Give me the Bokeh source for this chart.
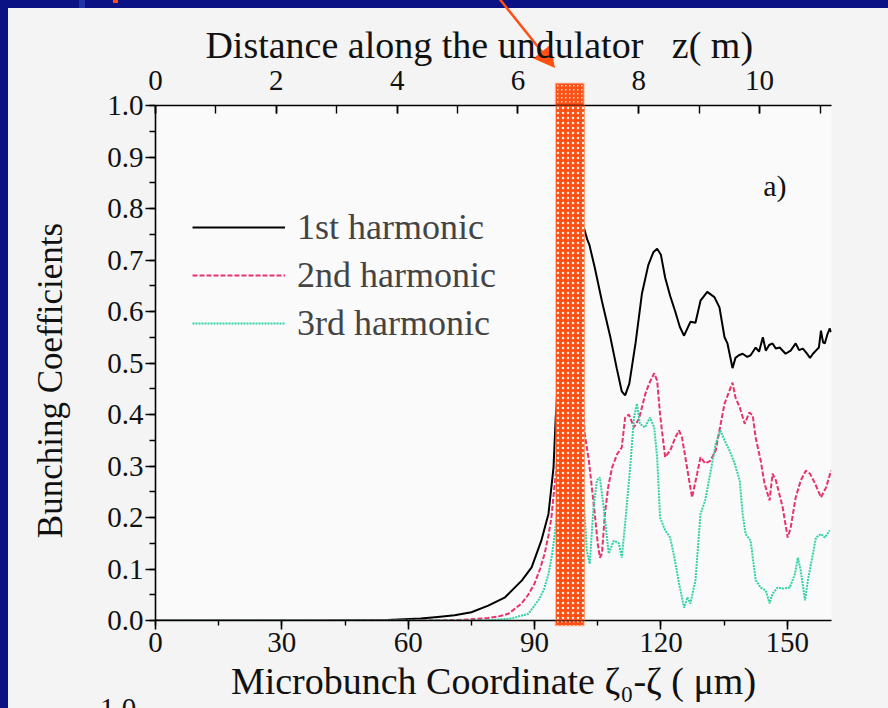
import math
import urllib.parse
from bokeh.plotting import figure
from bokeh.models import (LinearAxis, Range1d, Legend, LegendItem, BoxAnnotation,
                          Label, SingleIntervalTicker, PrintfTickFormatter, InlineStyleSheet)
from bokeh.embed import file_html
from bokeh.resources import INLINE

# ---------------- data ----------------
x_h1 = [0, 20, 40, 55, 63, 67, 71, 75, 79, 83,
        87, 89.3, 91.6, 93.3, 94.5, 95, 95.7, 96.5, 97.5, 98.5,
        99.5, 100.5, 101, 101.8, 102.5, 103, 104.3, 106, 108, 109.5,
        110.7, 111.5, 112.5, 114, 115.5, 117, 118.2, 119.1, 120, 121,
        122.2, 123.4, 124.5, 125.5, 127, 128.2, 129.4, 131, 132.7, 133.9,
        135.1, 135.8, 137, 137.7, 138.5, 139.4, 140.5, 141.3, 142.5, 143.3,
        144.2, 144.9, 145.7, 146.5, 147.3, 148.2, 149.6, 150.8, 152, 152.8,
        153.7, 154.5, 155.4, 156.1, 156.8, 157.5, 158, 158.5, 158.9, 159.5,
        160.1, 160.4]
y_h1 = [0, 0, 0, 0.001, 0.004, 0.007, 0.01, 0.016, 0.029, 0.045,
        0.078, 0.103, 0.155, 0.207, 0.297, 0.39, 0.49, 0.56, 0.64, 0.70,
        0.74, 0.765, 0.767, 0.76, 0.74, 0.73, 0.685, 0.62, 0.55, 0.49,
        0.445, 0.437, 0.46, 0.54, 0.635, 0.69, 0.715, 0.722, 0.71, 0.666,
        0.63, 0.60, 0.57, 0.553, 0.58, 0.578, 0.621, 0.638, 0.628, 0.608,
        0.55, 0.538, 0.49, 0.51, 0.515, 0.518, 0.512, 0.515, 0.53, 0.522,
        0.55, 0.524, 0.535, 0.538, 0.528, 0.53, 0.518, 0.524, 0.538, 0.525,
        0.528, 0.52, 0.51, 0.518, 0.524, 0.53, 0.563, 0.54, 0.538, 0.555,
        0.567, 0.56]

x_h2 = [0, 20, 40, 60, 72, 76, 79, 81.5, 83.8, 86.9,
        88.5, 90, 91.3, 92.4, 93.3, 94, 94.8, 96, 97, 98,
        99, 99.8, 100.5, 101.2, 101.9, 102.9, 103.6, 104.3, 105, 105.5,
        106, 106.7, 107.5, 108.4, 109.6, 110.7, 111.5, 112.4, 113.6, 114.8,
        115.5, 116.3, 117.2, 118.4, 119.1, 119.8, 121, 122.2, 123.4, 124.3,
        125, 125.8, 126.7, 127.4, 128.6, 129.4, 130.5, 131.7, 133, 133.9,
        135.1, 136.3, 137, 137.7, 138.7, 139.9, 141, 141.8, 142.5, 143.7,
        144.6, 145.8, 146.5, 147.3, 148.9, 150.1, 150.8, 152, 153.2, 154.4,
        155.4, 156.6, 158, 159.2, 160.4]
y_h2 = [0, 0, 0, 0, 0.001, 0.003, 0.005, 0.008, 0.013, 0.033,
        0.05, 0.072, 0.1, 0.13, 0.165, 0.2, 0.266, 0.36, 0.46, 0.55,
        0.61, 0.62, 0.56, 0.46, 0.363, 0.31, 0.258, 0.207, 0.15, 0.122,
        0.13, 0.207, 0.26, 0.297, 0.323, 0.336, 0.394, 0.40, 0.375, 0.392,
        0.414, 0.44, 0.46, 0.48, 0.466, 0.40, 0.317, 0.33, 0.355, 0.369,
        0.355, 0.317, 0.272, 0.239, 0.285, 0.317, 0.305, 0.31, 0.33, 0.369,
        0.421, 0.447, 0.462, 0.433, 0.414, 0.382, 0.404, 0.398, 0.355, 0.31,
        0.266, 0.233, 0.285, 0.272, 0.22, 0.161, 0.18, 0.239, 0.272, 0.291,
        0.285, 0.266, 0.239, 0.258, 0.291]

x_h3 = [0, 20, 40, 60, 75, 80, 84.5, 88.5, 90.9, 92.2,
        93.3, 94.1, 94.8, 96, 97, 98, 99, 99.7, 100.5, 101.2,
        102.4, 103.1, 104, 104.8, 105.5, 106.4, 107.6, 108.8, 110, 110.7,
        111.5, 112.7, 113.6, 114.3, 115, 116.2, 117.4, 118.4, 119.1, 119.8,
        121, 122.2, 123.2, 124.3, 125.5, 126.3, 127, 128.2, 129.4, 130.5,
        131.7, 133, 134.1, 135.1, 136.3, 137.5, 138.7, 139.4, 140.1, 141.3,
        142.5, 143.7, 144.9, 145.8, 146.5, 147.7, 148.9, 150.6, 151.8, 152.5,
        153.2, 154.2, 154.9, 156.1, 156.8, 158, 158.9, 160.1]
y_h3 = [0, 0, 0, 0, 0, 0.001, 0.004, 0.013, 0.039, 0.06,
        0.09, 0.125, 0.168, 0.26, 0.36, 0.45, 0.51, 0.53, 0.45, 0.3,
        0.136, 0.11, 0.22, 0.272, 0.278, 0.22, 0.13, 0.155, 0.15, 0.122,
        0.188, 0.297, 0.394, 0.421, 0.382, 0.375, 0.394, 0.375, 0.317, 0.2,
        0.175, 0.161, 0.122, 0.072, 0.025, 0.045, 0.033, 0.078, 0.207, 0.233,
        0.285, 0.343, 0.369, 0.35, 0.33, 0.305, 0.272, 0.207, 0.168, 0.155,
        0.078, 0.064, 0.058, 0.033, 0.052, 0.064, 0.062, 0.064, 0.09, 0.122,
        0.097, 0.039, 0.078, 0.13, 0.161, 0.168, 0.161, 0.175]

series_names = ["1st harmonic", "2nd harmonic", "3rd harmonic"]
x_ticks_interval = 30
z_ticks_interval = 2
y_ticks_interval = 0.1
highlight_left, highlight_right = 95.0, 101.9

# ---------------- styling ----------------
FONT = "Liberation Serif"
BLUE = "#0b1384"
ORANGE = "#ff4f12"
C1, C2, C3 = "#000000", "#e8336b", "#2fd3a6"
XMAX = 160.5
ZMAX = 11.19
W, H = 888, 708
BL, BR, BT, BB = 155, 57, 105, 88
SX = (W - BL - BR) / XMAX
NB = "\u00a0"

# ---- decorations outside the plot frame (slide border, arrow, highlight tabs) ----
hl_px = BL + highlight_left * SX
hr_px = BL + highlight_right * SX
S = (498.0, -3.0)
T = (555.0, 68.0)
dx, dy = T[0] - S[0], T[1] - S[1]
L = math.hypot(dx, dy)
ux, uy = dx / L, dy / L
nx, ny = -uy, ux
head_len, head_hw = 21.0, 11.0
B = (T[0] - head_len * ux, T[1] - head_len * uy)
c1 = (B[0] + head_hw * nx, B[1] + head_hw * ny)
c2 = (B[0] - head_hw * nx, B[1] - head_hw * ny)
svg = (
    f'<svg xmlns="http://www.w3.org/2000/svg" width="{W}" height="{H}">'
    '<defs><pattern id="hp" width="4" height="4" patternUnits="userSpaceOnUse">'
    f'<rect width="4" height="4" fill="{ORANGE}"/>'
    '<rect x="1" y="1" width="1.5" height="1.5" fill="white" fill-opacity="0.85"/></pattern></defs>'
    f'<rect width="{W}" height="{H}" fill="#f4f4f4"/>'
    f'<rect x="0" y="0" width="{W}" height="8" fill="{BLUE}"/>'
    f'<rect x="0" y="0" width="8" height="{H}" fill="{BLUE}"/>'
    '<rect x="79" y="0" width="6" height="8" fill="#2233a8"/>'
    f'<rect x="113" y="0" width="5" height="3" fill="{ORANGE}"/>'
    f'<rect x="{hl_px:.1f}" y="83" width="{hr_px - hl_px:.1f}" height="{H - BB + 6 - 83}" '
    'fill="url(#hp)" stroke="#ffd0c0" stroke-width="1"/>'
    f'<line x1="{S[0]}" y1="{S[1]}" x2="{B[0] + 3 * ux:.1f}" y2="{B[1] + 3 * uy:.1f}" '
    f'stroke="{ORANGE}" stroke-width="2.5"/>'
    f'<polygon points="{T[0]},{T[1]} {c1[0]:.1f},{c1[1]:.1f} {c2[0]:.1f},{c2[1]:.1f}" fill="{ORANGE}"/>'
    f'<text x="100" y="718" font-family="{FONT}" font-size="29" fill="#111">1.0</text>'
    '</svg>'
)
bg_css = (":host { background-color: #f4f4f4; background-image: url(\"data:image/svg+xml;utf8,"
          + urllib.parse.quote(svg) + "\"); background-repeat: no-repeat; "
          f"background-size: {W}px {H}px; }}")

p = figure(width=W, height=H, output_backend="svg", toolbar_location=None,
           x_range=Range1d(0, XMAX), y_range=Range1d(0, 1.0),
           min_border_left=BL, min_border_right=BR, min_border_top=BT, min_border_bottom=BB,
           background_fill_color="#fafafa", border_fill_alpha=0,
           outline_line_color=None, stylesheets=[InlineStyleSheet(css=bg_css)])
p.grid.visible = False

def style_axis(ax, label_size):
    ax.axis_line_width = 1.6
    ax.major_tick_line_width = 1.6
    ax.minor_tick_line_width = 1.4
    ax.major_label_text_font = FONT
    ax.major_label_text_font_size = "29px"
    ax.major_label_text_color = "#111111"
    ax.axis_label_text_font = FONT
    ax.axis_label_text_font_size = label_size
    ax.axis_label_text_font_style = "normal"
    ax.axis_label_text_color = "#111111"

xa = p.xaxis[0]
xa.ticker = SingleIntervalTicker(interval=x_ticks_interval, num_minor_ticks=2)
xa.axis_label = "Microbunch Coordinate \u03b6\u2080-\u03b6 ( \u03bcm)"
style_axis(xa, "38px")
xa.major_tick_out = 9
xa.major_tick_in = 0
xa.minor_tick_out = 5
xa.minor_tick_in = 0
xa.major_label_standoff = 3
xa.axis_label_standoff = 5

ya = p.yaxis[0]
ya.ticker = SingleIntervalTicker(interval=y_ticks_interval, num_minor_ticks=2)
ya.formatter = PrintfTickFormatter(format="%.1f")
ya.axis_label = "Bunching Coefficients" + NB * 4
style_axis(ya, "35px")
ya.major_tick_out = 10
ya.major_tick_in = 0
ya.minor_tick_out = 6
ya.minor_tick_in = 0
ya.major_label_standoff = 2
ya.axis_label_standoff = 34

p.extra_x_ranges = {"z": Range1d(0, ZMAX)}
top = LinearAxis(x_range_name="z",
                 ticker=SingleIntervalTicker(interval=z_ticks_interval, num_minor_ticks=2),
                 axis_label="Distance along the undulator" + NB * 3 + "z(" + NB + "m)" + NB * 3)
style_axis(top, "38px")
top.major_tick_in = 8
top.major_tick_out = 0
top.minor_tick_in = 8
top.minor_tick_out = 0
top.major_label_standoff = 16
top.axis_label_standoff = 2
p.add_layout(top, "above")

r1 = p.line(x_h1, y_h1, line_color=C1, line_width=2)
r2 = p.line(x_h2, y_h2, line_color=C2, line_width=2, line_dash="5 2")
r3 = p.line(x_h3, y_h3, line_color=C3, line_width=2, line_dash="2 1")

legend = Legend(items=[LegendItem(label=series_names[0], renderers=[r1]),
                       LegendItem(label=series_names[1], renderers=[r2]),
                       LegendItem(label=series_names[2], renderers=[r3])],
                location=(37, 276), padding=0, margin=0, spacing=6,
                glyph_width=93, glyph_height=40, label_height=40, label_standoff=12,
                label_text_font=FONT, label_text_font_size="36px",
                background_fill_alpha=0, border_line_color=None)
p.add_layout(legend, "center")

# highlighted region inside the frame
p.add_layout(BoxAnnotation(left=highlight_left, right=highlight_right, bottom=-0.012, top=1.043,
                           fill_color=ORANGE, fill_alpha=1.0, line_color="#ffd0c0", line_width=1,
                           hatch_pattern="dot", hatch_color="white", hatch_scale=5,
                           hatch_weight=1.5, hatch_alpha=0.9))

p.add_layout(Label(x=144.3, y=0.845, text="a)", text_font=FONT, text_font_size="30px",
                   text_baseline="middle", text_color="#111111"))

open("out.html", "w").write(file_html(p, INLINE))
